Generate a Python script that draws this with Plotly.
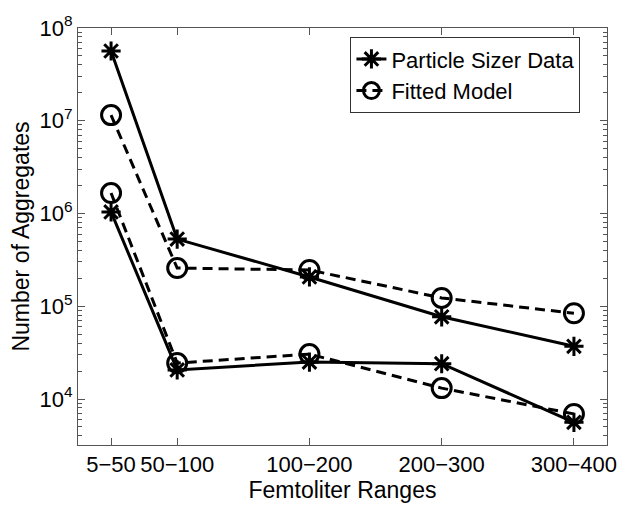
import plotly.graph_objects as go

categories = ["5−50", "50−100", "100−200", "200−300", "300−400"]
x_pos = [0.5, 1, 2, 3, 4]

sizer_upper = [5.65e7, 5.3e5, 2.07e5, 7.7e4, 3.7e4]
sizer_lower = [1.04e6, 2.06e4, 2.5e4, 2.4e4, 5.6e3]
model_upper = [1.15e7, 2.58e5, 2.46e5, 1.23e5, 8.4e4]
model_lower = [1.66e6, 2.44e4, 3.05e4, 1.31e4, 6.9e3]

ytick_vals = [1e4, 1e5, 1e6, 1e7, 1e8]
ytick_text = ["10<sup>4</sup>", "10<sup>5</sup>", "10<sup>6</sup>", "10<sup>7</sup>", "10<sup>8</sup>"]

FONT = "Liberation Sans, Arial, sans-serif"

fig = go.Figure()

def add(y, name, dash, symbol, size, show):
    fig.add_trace(go.Scatter(
        x=x_pos, y=y, name=name, mode="lines+markers",
        line=dict(color="black", width=3, dash=dash),
        marker=dict(symbol=symbol, size=size, color="black",
                    line=dict(color="black", width=3)),
        showlegend=show, legendgroup=name,
    ))

add(sizer_upper, "Particle Sizer Data", "solid", "asterisk-open", 16, True)
add(sizer_lower, "Particle Sizer Data", "solid", "asterisk-open", 16, False)
add(model_upper, "Fitted Model", "10px,6px", "circle-open", 19, True)
add(model_lower, "Fitted Model", "10px,6px", "circle-open", 19, False)

axis_common = dict(
    showline=True, linecolor="#555555", linewidth=1, mirror="allticks",
    ticks="inside", tickcolor="#555555", showgrid=False, zeroline=False,
    automargin=False,
    tickfont=dict(family=FONT, size=22, color="black"),
)

fig.update_xaxes(
    range=[0.25, 4.25], tickvals=x_pos, ticktext=categories, ticklen=7, tickangle=0,
    title=dict(text="Femtoliter Ranges", font=dict(family=FONT, size=23, color="black"), standoff=0),
    **axis_common,
)
fig.update_yaxes(
    type="log", range=[3.504, 8], tickvals=ytick_vals, ticktext=ytick_text, ticklen=7,
    minor=dict(ticks="inside", ticklen=4, tickcolor="#555555", dtick="D1"),
    title=dict(text="Number of Aggregates", font=dict(family=FONT, size=23, color="black"), standoff=4),
    **axis_common,
)

fig.update_layout(
    width=624, height=502,
    margin=dict(l=70, r=25, t=20, b=65),
    paper_bgcolor="white", plot_bgcolor="white",
    font=dict(family=FONT, color="black"),
    legend=dict(
        x=0.515, y=0.978, xanchor="left", yanchor="top",
        bgcolor="white", bordercolor="#333333", borderwidth=1,
        font=dict(family=FONT, size=22, color="black"),
        tracegroupgap=0, itemwidth=30,
    ),
)

fig.write_html("out.html")
